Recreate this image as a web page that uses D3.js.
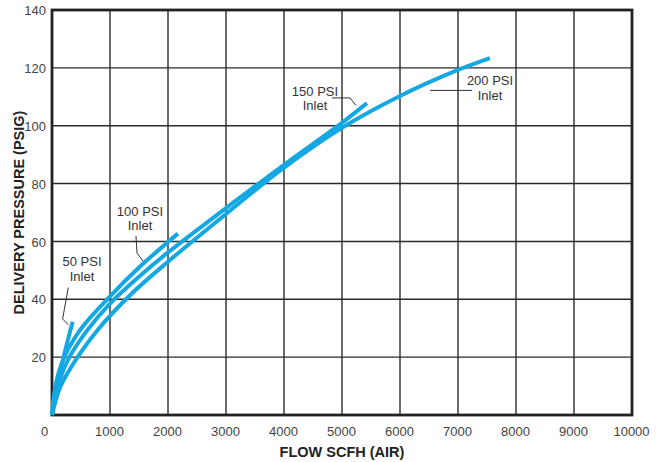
<!DOCTYPE html>
<html>
<head>
<meta charset="utf-8">
<script src="https://cdn.jsdelivr.net/npm/d3@7"></script>
<style>
  html, body { margin: 0; padding: 0; background: #fff; }
  svg { display: block; }
  text { font-family: "Liberation Sans", Arial, Helvetica, sans-serif; }
</style>
</head>
<body>
<svg id="chart" width="668" height="462"></svg>
<script>
// Flow (SCFH air) vs delivery pressure (PSIG) for each inlet pressure
const inlet50  = [[0, 0], [80, 9], [200, 20], [356, 32.2]];
const inlet100 = [[0, 0], [50, 9], [170, 18], [470, 29], [1000, 41], [1500, 51], [2000, 59.8], [2170, 62.7]];
const inlet150 = [[0, 0], [130, 12], [300, 20], [620, 29.6], [1000, 38.5], [1500, 47.8], [2000, 56.2], [3000, 71.5], [4000, 86.5], [5000, 101], [5430, 107.8]];
const inlet200 = [[0, 0], [150, 10], [440, 20], [790, 29.5], [1350, 41.5], [2000, 53], [3000, 69.5], [4000, 85.5], [5000, 99.3], [6000, 110.3], [7000, 119.3], [7550, 123.4]];

const seriesData = [inlet50, inlet100, inlet150, inlet200];

const xTicks = [0, 1000, 2000, 3000, 4000, 5000, 6000, 7000, 8000, 9000, 10000];
const yTicks = [20, 40, 60, 80, 100, 120, 140];

// Callout labels: text block centre and leader polyline, both in data units
const calloutLines = [["50 PSI", "Inlet"], ["100 PSI", "Inlet"], ["150 PSI", "Inlet"], ["200 PSI", "Inlet"]];
const calloutAnchor = [[517, 53], [1517, 70.5], [4534, 112], [7552, 115.5]];
const calloutLeader = [
  [[280, 44], [183, 33.2], [280, 31.2]],
  [[1448, 61.9], [1466, 56.0], [1569, 53.2]],
  [[4828, 109.6], [5138, 109.6], [5241, 107.0]],
  [[6517, 112.2], [7241, 112.2]]
];

const svg = d3.select("#chart");
const margin = { left: 52, right: 36, top: 10, bottom: 47 };
const W = 668, H = 462;

const x = d3.scaleLinear().domain([0, 10000]).range([margin.left, W - margin.right]);
const y = d3.scaleLinear().domain([0, 140]).range([H - margin.bottom, margin.top]);

const gridColor = "#2b2b2b";
const labelColor = "#444";
const curveColor = "#13a8e2";

// Vertical grid
svg.append("g")
  .selectAll("line")
  .data(xTicks.slice(1, -1))
  .join("line")
  .attr("x1", d => x(d)).attr("x2", d => x(d))
  .attr("y1", y(0)).attr("y2", y(140))
  .attr("stroke", gridColor).attr("stroke-width", 1.4);

// Horizontal grid
svg.append("g")
  .selectAll("line")
  .data(yTicks.slice(0, -1))
  .join("line")
  .attr("x1", x(0)).attr("x2", x(10000))
  .attr("y1", d => y(d)).attr("y2", d => y(d))
  .attr("stroke", gridColor).attr("stroke-width", 1.4);

// Frame
svg.append("rect")
  .attr("x", x(0)).attr("y", y(140))
  .attr("width", x(10000) - x(0)).attr("height", y(0) - y(140))
  .attr("fill", "none").attr("stroke", "#222").attr("stroke-width", 2.8);

// X axis tick labels
const xAxis = d3.axisBottom(x).tickValues(xTicks).tickSize(0).tickPadding(12).tickFormat(d3.format("d"));
const gx = svg.append("g").attr("transform", `translate(0,${y(0)})`).call(xAxis);
gx.select(".domain").remove();
gx.selectAll("text")
  .attr("fill", labelColor).attr("font-size", 13)
  .attr("font-family", "'Liberation Sans', Arial, sans-serif")
  .attr("dx", d => d === 0 ? -8 : -1);

// Y axis tick labels
const yAxis = d3.axisLeft(y).tickValues(yTicks).tickSize(0).tickPadding(6);
const gy = svg.append("g").attr("transform", `translate(${x(0)},0)`).call(yAxis);
gy.select(".domain").remove();
gy.selectAll("text")
  .attr("fill", labelColor).attr("font-size", 13)
  .attr("font-family", "'Liberation Sans', Arial, sans-serif")
  .attr("dy", "0.36em");

// Curves
const line = d3.line()
  .x(d => x(d[0]))
  .y(d => y(d[1]))
  .curve(d3.curveCatmullRom.alpha(0.5));

svg.append("g")
  .selectAll("path")
  .data(seriesData)
  .join("path")
  .attr("d", line)
  .attr("fill", "none")
  .attr("stroke", curveColor)
  .attr("stroke-width", 4)
  .attr("stroke-linecap", "butt");

// Callouts
const leader = d3.line().x(d => x(d[0])).y(d => y(d[1]));
svg.append("g")
  .selectAll("path")
  .data(calloutLeader)
  .join("path")
  .attr("d", leader)
  .attr("fill", "none")
  .attr("stroke", "#333")
  .attr("stroke-width", 1);

const callouts = svg.append("g")
  .selectAll("text")
  .data(calloutLines)
  .join("text")
  .attr("x", (d, i) => x(calloutAnchor[i][0]))
  .attr("y", (d, i) => y(calloutAnchor[i][1]))
  .attr("text-anchor", "middle")
  .attr("font-size", 13)
  .attr("fill", "#333");
callouts.selectAll("tspan")
  .data(d => d)
  .join("tspan")
  .attr("x", function () { return this.parentNode.getAttribute("x"); })
  .attr("dy", (d, i) => i === 0 ? "0.35em" : "1.1em")
  .text(d => d);

// Axis titles
svg.append("text")
  .attr("x", (x(0) + x(10000)) / 2)
  .attr("y", 452)
  .attr("dy", "0.35em")
  .attr("text-anchor", "middle")
  .attr("font-size", 14.5)
  .attr("font-weight", "bold")
  .attr("fill", "#222")
  .text("FLOW SCFH (AIR)");

svg.append("text")
  .attr("transform", `translate(18.5,${(y(0) + y(140)) / 2}) rotate(-90)`)
  .attr("dy", "0.35em")
  .attr("text-anchor", "middle")
  .attr("font-size", 14.5)
  .attr("font-weight", "bold")
  .attr("fill", "#222")
  .text("DELIVERY PRESSURE (PSIG)");
</script>
</body>
</html>
